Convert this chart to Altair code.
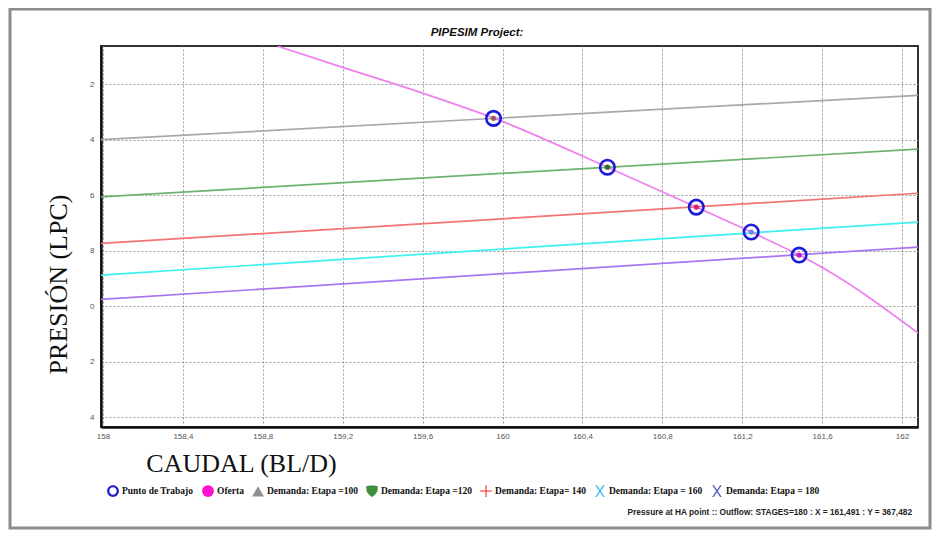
import altair as alt
import pandas as pd

# ---------------- data ----------------
x_ticks = [158, 158.4, 158.8, 159.2, 159.6, 160, 160.4, 160.8, 161.2, 161.6, 162]
y_ticks = [362, 364, 366, 368, 370, 372, 374]

# Demand curves (straight lines, value at left and right edge of the plot)
demanda_x = [157.99, 162.08]
demanda_nombres = ["Demanda: Etapa =100", "Demanda: Etapa =120", "Demanda: Etapa= 140",
                   "Demanda: Etapa = 160", "Demanda: Etapa = 180"]
demanda_y_ini = [364.00, 366.06, 367.74, 368.88, 369.76]
demanda_y_fin = [362.40, 364.34, 365.93, 366.97, 367.87]
demanda_colores = ["#a9a9a9", "#6db36d", "#f27474", "#3ff0f0", "#a875f0"]

# Supply curve (Oferta)
oferta_x = [158.875, 159.2, 159.6, 159.96, 160.525, 160.97, 161.245, 161.485, 161.605, 162.08]
oferta_y = [360.63, 361.39, 362.32, 363.23, 364.99, 366.43, 367.33, 368.16, 368.63, 370.97]
oferta_color = "#ee7fee"

# Operating points (Punto de Trabajo)
punto_x = [159.955, 160.525, 160.97, 161.245, 161.485]
punto_y = [363.23, 364.99, 366.43, 367.33, 368.16]
punto_relleno = ["#9a5a6a", "#2e6b2e", "#e0206a", "#8080e0", "#c020c0"]

# Legend
leyenda_nombres = ["Punto de Trabajo", "Oferta"] + demanda_nombres
leyenda_colores = ["#2020d0", "#ff10d0", "#909090", "#3f8f3f", "#ff2020", "#40c0f0", "#6060c0"]
ring = "M1,0A1,1,0,1,1,-1,0A1,1,0,1,1,1,0ZM0.62,0A0.62,0.62,0,1,0,-0.62,0A0.62,0.62,0,1,0,0.62,0Z"
shield = "M-1,-0.75C-0.5,-1,0.5,-1,1,-0.75L0.9,0.05C0.6,0.6,0.25,0.9,0,1C-0.25,0.9,-0.6,0.6,-0.9,0.05Z"
plus = "M-0.09,-1L0.09,-1L0.09,-0.09L1,-0.09L1,0.09L0.09,0.09L0.09,1L-0.09,1L-0.09,0.09L-1,0.09L-1,-0.09L-0.09,-0.09Z"
xsym = "M-0.8,-1L-0.52,-1L0,-0.22L0.52,-1L0.8,-1L0.16,0L0.8,1L0.52,1L0,0.22L-0.52,1L-0.8,1L-0.16,0Z"
leyenda_formas = [ring, "circle", "triangle-up", shield, plus, xsym, xsym]

titulo = "PIPESIM Project:"
nota = "Pressure at HA point :: Outflow: STAGES=180 : X = 161,491 : Y = 367,482"

# ---------------- tables ----------------
rows = []
for n, c, y0, y1 in zip(demanda_nombres, demanda_colores, demanda_y_ini, demanda_y_fin):
    rows.append({"serie": n, "hex": c, "q": demanda_x[0], "p": y0})
    rows.append({"serie": n, "hex": c, "q": demanda_x[1], "p": y1})
df_dem = pd.DataFrame(rows)
df_of = pd.DataFrame({"q": oferta_x, "p": oferta_y})
df_pt = pd.DataFrame({"q": punto_x, "p": punto_y, "hex": punto_relleno})
df_leg = pd.DataFrame({"serie": leyenda_nombres, "q": [150.0] * 7, "p": [365.0] * 7})
df_one = pd.DataFrame({"k": [0]})

xscale = alt.Scale(domain=[157.99, 162.08], nice=False, zero=False)
yscale = alt.Scale(domain=[360.62, 374.36], nice=False, zero=False, reverse=True)

xaxis = alt.Axis(values=x_ticks, labelExpr="replace(format(datum.value, '.1~f'), '.', ',')",
                 grid=True, gridDash=[2, 2], gridColor="#9a9a9a", ticks=False,
                 domainColor="#111", domainWidth=2.5,
                 labelFont="Liberation Sans", labelFontSize=8, labelColor="#555", labelPadding=5,
                 title="CAUDAL (BL/D)", titleFont="Liberation Serif", titleFontSize=26,
                 titleFontWeight="normal", titleColor="#111", titleX=140, titleY=44,
                 titleAlign="center", titleBaseline="alphabetic")
yaxis = alt.Axis(values=y_ticks, labelExpr="'' + (round(datum.value) % 10)",
                 grid=True, gridDash=[2, 2], gridColor="#9a9a9a", ticks=False,
                 domainColor="#111", domainWidth=2.5,
                 labelFont="Liberation Sans", labelFontSize=8, labelColor="#555", labelPadding=7,
                 title="PRESIÓN (LPC)", titleFont="Liberation Serif", titleFontSize=26,
                 titleFontWeight="normal", titleColor="#111", titleAngle=270, titleX=-35, titleY=238,
                 titleAlign="center", titleBaseline="alphabetic")

X = alt.X("q:Q", scale=xscale, axis=xaxis)
Y = alt.Y("p:Q", scale=yscale, axis=yaxis)

frame = alt.Chart(df_one).mark_rect(fillOpacity=0, stroke="#8c8c8c", strokeWidth=3).encode(
    x=alt.value(-91), x2=alt.value(829), y=alt.value(-37), y2=alt.value(482))

lineas = alt.Chart(df_dem).mark_line(strokeWidth=1.7, clip=True).encode(
    x=X, y=Y, color=alt.Color("hex:N", scale=None), detail="serie:N")

oferta = alt.Chart(df_of).mark_line(strokeWidth=1.7, clip=True, color=oferta_color,
                                    interpolate="monotone").encode(x=X, y=Y)

circulos = alt.Chart(df_pt).mark_point(shape="circle", filled=False, stroke="#1c1cd8",
                                        strokeWidth=2.6, size=210, opacity=1).encode(x=X, y=Y)
puntos = alt.Chart(df_pt).mark_point(shape="circle", filled=True, size=28, opacity=1).encode(
    x=X, y=Y, color=alt.Color("hex:N", scale=None))

leyenda = alt.Chart(df_leg).mark_point(filled=True, clip=True, size=10).encode(
    x=X, y=Y,
    color=alt.Color("serie:N", scale=alt.Scale(domain=leyenda_nombres, range=leyenda_colores),
                    sort=leyenda_nombres, title=None),
    shape=alt.Shape("serie:N", scale=alt.Scale(domain=leyenda_nombres, range=leyenda_formas),
                    sort=leyenda_nombres, title=None),
)

tit = alt.Chart(df_one).mark_text(text=titulo, font="Liberation Sans", fontStyle="italic",
                                  fontWeight="bold", fontSize=11.5, align="center",
                                  baseline="middle", color="#111").encode(
    x=alt.value(376), y=alt.value(-13))
nota_t = alt.Chart(df_one).mark_text(text=nota, font="Liberation Sans", fontWeight="bold",
                                     fontSize=8.3, align="right", baseline="middle",
                                     color="#222").encode(x=alt.value(811), y=alt.value(467))

chart = alt.layer(frame, lineas, oferta, circulos, puntos, leyenda, tit, nota_t).properties(
    width=817, height=381,
    padding={"left": 93, "top": 38, "right": 14, "bottom": 103},
    autosize=alt.AutoSizeParams(type="none"),
    background="white",
).configure_view(stroke="#333", strokeWidth=2).configure_legend(
    orient="none", legendX=6, legendY=439, direction="horizontal", columns=7,
    symbolSize=140, symbolOpacity=1, symbolStrokeWidth=0, labelFont="Liberation Serif",
    labelFontSize=9.5, labelFontWeight="bold", labelColor="#111", labelOffset=3,
    columnPadding=8, padding=0, titlePadding=0,
)

chart.save("out.html", embed_options={"renderer": "svg", "actions": False})
